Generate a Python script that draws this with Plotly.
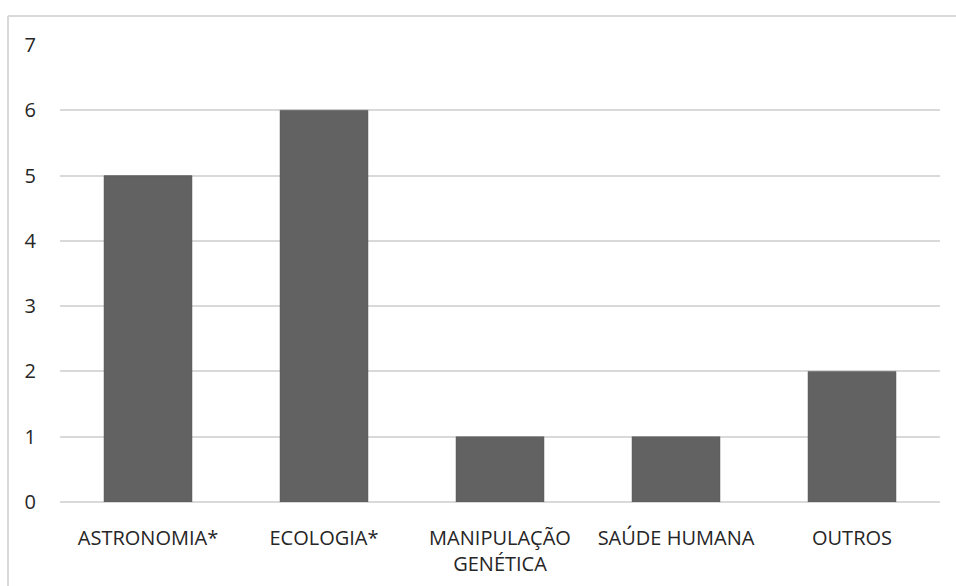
import plotly.graph_objects as go

categories = ["ASTRONOMIA*", "ECOLOGIA*", "MANIPULAÇÃO<br>GENÉTICA", "SAÚDE HUMANA", "OUTROS"]
values = [5, 6, 1, 1, 2]
y_ticks = [0, 1, 2, 3, 4, 5, 6, 7]

fig = go.Figure()
fig.add_trace(go.Bar(
    x=categories, y=values,
    marker=dict(color="#626262", line=dict(color="#5a5a5a", width=0.5)),
    width=0.5,
))

font_family = "'Open Sans', Lato, sans-serif"
fig.update_layout(
    width=956, height=586,
    margin=dict(l=60, r=16, t=45, b=84),
    paper_bgcolor="white", plot_bgcolor="white",
    showlegend=False,
    font=dict(family=font_family, size=20, color="#262626"),
    xaxis=dict(showgrid=False, showline=False, ticks="", ticklabelstandoff=22,
               automargin=False, tickfont=dict(size=20, color="#262626")),
    yaxis=dict(range=[0, 7], tickvals=y_ticks, showgrid=True, gridcolor="#d9d9d9",
               gridwidth=1.5, zeroline=True, zerolinecolor="#d9d9d9", zerolinewidth=1.5,
               showline=False, ticks="", ticklabelstandoff=23, automargin=False,
               tickfont=dict(size=20, color="#262626")),
    shapes=[
        dict(type="line", xref="paper", yref="paper", x0=-0.0591, x1=1.2, y0=1.0635, y1=1.0635,
             line=dict(color="#d9d9d9", width=2)),
        dict(type="line", xref="paper", yref="paper", x0=-0.0591, x1=-0.0591, y0=1.0635, y1=-0.5,
             line=dict(color="#d9d9d9", width=2)),
    ],
)

fig.write_html("out.html")
